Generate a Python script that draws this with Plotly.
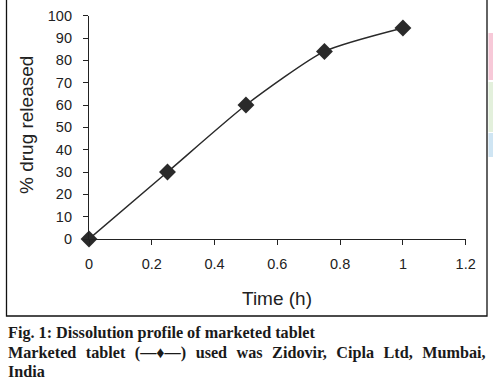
import plotly.graph_objects as go

time_h = [0, 0.25, 0.5, 0.75, 1.0]
drug_released = [0, 30, 60, 84, 94.5]
x_ticks = [0, 0.2, 0.4, 0.6, 0.8, 1, 1.2]
x_tick_labels = ["0", "0.2", "0.4", "0.6", "0.8", "1", "1.2"]
y_ticks = [0, 10, 20, 30, 40, 50, 60, 70, 80, 90, 100]

W, H = 493, 384

def px(x):
    return x / W

def py(y):
    return (H - y) / H

fig = go.Figure()
fig.add_trace(go.Scatter(
    x=time_h, y=drug_released, mode="lines+markers",
    line=dict(color="#2a2a2a", width=1.5, shape="spline", smoothing=0.6),
    marker=dict(symbol="diamond", size=13, color="#2a2a2a"),
    cliponaxis=False, showlegend=False,
))

axis_font = dict(family="Arial, Liberation Sans, sans-serif", size=14.5, color="#222")
fig.update_layout(
    width=W, height=H,
    margin=dict(l=0, r=0, t=0, b=0),
    paper_bgcolor="white", plot_bgcolor="white",
    xaxis=dict(
        domain=[px(89), px(465.7)], range=[0, 1.2],
        tickvals=x_ticks, ticktext=x_tick_labels,
        ticks="outside", ticklen=5, tickwidth=1, tickcolor="#222",
        showline=True, linecolor="#222", linewidth=1.2,
        showgrid=False, zeroline=False, tickfont=axis_font,
        anchor="y", automargin=False, ticklabelstandoff=6,
    ),
    yaxis=dict(
        domain=[py(239), py(15.7)], range=[0, 100],
        tickvals=y_ticks,
        ticks="outside", ticklen=5, tickwidth=1, tickcolor="#222",
        showline=True, linecolor="#222", linewidth=1.2,
        showgrid=False, zeroline=False, tickfont=axis_font,
        anchor="x", automargin=False, ticklabelstandoff=8,
    ),
)

# Chart frame
fig.add_shape(type="rect", xref="paper", yref="paper",
              x0=px(6.5), x1=px(487), y0=py(316), y1=1.02,
              line=dict(color="#111", width=1.3), fillcolor="rgba(0,0,0,0)")

# Page edge colour bands
for y0, y1, c in [(33, 80, "#f7c9d8"), (82, 132, "#e3f0dc"), (133, 157, "#cfe5f3")]:
    fig.add_shape(type="rect", xref="paper", yref="paper",
                  x0=px(488.5), x1=1.0, y0=py(y1), y1=py(y0),
                  line=dict(width=0), fillcolor=c)

title_font = dict(family="Arial, Liberation Sans, sans-serif", size=19, color="#222")
fig.add_annotation(text="% drug released", xref="paper", yref="paper",
                   x=px(26), y=py(125), xanchor="center", yanchor="middle",
                   showarrow=False, textangle=-90, font=title_font)
fig.add_annotation(text="Time (h)", xref="paper", yref="paper",
                   x=px(277), y=py(298), xanchor="center", yanchor="middle",
                   showarrow=False, font=title_font)

cap_font = dict(family="Liberation Serif, DejaVu Serif, serif", size=16.2, color="#1a1a1a")
sp = "\u2002\u200a"
captions = [
    ("<b>Fig. 1: Dissolution profile of marketed tablet</b>", 333),
    ("<b>" + sp.join(["Marketed", "tablet", "(—♦—)", "used", "was", "Zidovir,",
                      "Cipla", "Ltd,", "Mumbai,"]) + "</b>", 353),
    ("<b>India</b>", 372),
]
for txt, yc in captions:
    fig.add_annotation(text=txt, xref="paper", yref="paper",
                       x=px(6), y=py(yc), xanchor="left", yanchor="middle",
                       showarrow=False, font=cap_font)

fig.write_html("out.html",
               config={"displayModeBar": False},
               post_script="document.body.style.margin='0';document.body.style.padding='0';")
